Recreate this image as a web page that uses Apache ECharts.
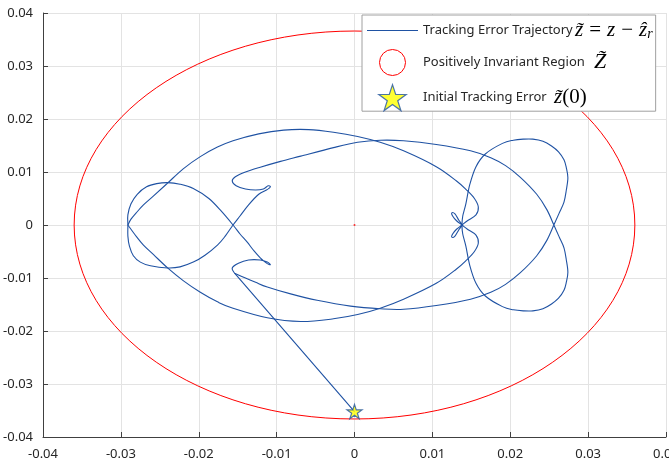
<!DOCTYPE html>
<html>
<head>
<meta charset="utf-8">
<script src="https://cdn.jsdelivr.net/npm/echarts/dist/echarts.min.js"></script>
<style>
  html, body { margin: 0; padding: 0; background: #fff; }
  #chart { width: 669px; height: 466px; }
</style>
</head>
<body>
<div id="chart"></div>
<script>
// axis range and tick step (both axes)
const axisMin = -0.04
const axisMax = 0.04
const axisStep = 0.01

// initial tracking error and the first jump of the trajectory
const initialError = [0, -0.0352]
const jumpPoint = [-0.0154, -0.0091]

// positively invariant region: ellipse centre and semi-axes
const regionCenter = [0, 0]
const regionSemiAxes = [0.0360, 0.0366]

// trajectory, main loop (right lobe, hooks and left "fish")
const trajMain = [
  [-0.0154, -0.0091], [-0.0140, -0.0100], [-0.0127, -0.0108], [-0.0112, -0.0117],
  [-0.0082, -0.0130], [-0.0048, -0.0142], [-0.0005, -0.0153], [0.0033, -0.0158],
  [0.0063, -0.0159], [0.0105, -0.0152], [0.0149, -0.0140], [0.0175, -0.0127],
  [0.0194, -0.0112], [0.0213, -0.0090], [0.0234, -0.0058], [0.0247, -0.0029],
  [0.0256, 0.0000], [0.0263, 0.0023], [0.0269, 0.0043], [0.0272, 0.0066],
  [0.0274, 0.0089], [0.0272, 0.0108], [0.0269, 0.0123], [0.0262, 0.0138],
  [0.0253, 0.0149], [0.0242, 0.0158], [0.0229, 0.0162], [0.0217, 0.0162],
  [0.0204, 0.0160], [0.0190, 0.0154], [0.0168, 0.0134], [0.0156, 0.0110],
  [0.0148, 0.0076], [0.0143, 0.0040], [0.0139, 0.0017], [0.0138, 0.0000],
  [0.0139, -0.0017], [0.0143, -0.0040], [0.0148, -0.0076], [0.0156, -0.0110],
  [0.0168, -0.0134], [0.0190, -0.0154], [0.0204, -0.0160], [0.0217, -0.0162],
  [0.0229, -0.0162], [0.0242, -0.0158], [0.0253, -0.0149], [0.0262, -0.0138],
  [0.0269, -0.0123], [0.0272, -0.0108], [0.0274, -0.0089], [0.0272, -0.0066],
  [0.0269, -0.0043], [0.0263, -0.0023], [0.0256, 0.0000], [0.0247, 0.0029],
  [0.0234, 0.0058], [0.0213, 0.0090], [0.0194, 0.0112], [0.0175, 0.0127],
  [0.0149, 0.0140], [0.0105, 0.0152], [0.0063, 0.0159], [0.0033, 0.0160],
  [0.0004, 0.0156], [-0.0027, 0.0146], [-0.0069, 0.0130], [-0.0095, 0.0120],
  [-0.0121, 0.0109], [-0.0140, 0.0100], [-0.0153, 0.0091], [-0.0157, 0.0083],
  [-0.0152, 0.0074], [-0.0140, 0.0068], [-0.0127, 0.0066], [-0.0117, 0.0068],
  [-0.0111, 0.0074], [-0.0108, 0.0072], [-0.0113, 0.0066], [-0.0123, 0.0058],
  [-0.0136, 0.0038], [-0.0147, 0.0017], [-0.0156, 0.0000], [-0.0166, -0.0021],
  [-0.0176, -0.0038], [-0.0192, -0.0057], [-0.0207, -0.0070], [-0.0224, -0.0079],
  [-0.0240, -0.0081], [-0.0262, -0.0077], [-0.0275, -0.0070], [-0.0284, -0.0058],
  [-0.0289, -0.0040], [-0.0291, -0.0021], [-0.0291, 0.0000], [-0.0291, 0.0019],
  [-0.0287, 0.0040], [-0.0279, 0.0058], [-0.0267, 0.0072], [-0.0254, 0.0078],
  [-0.0240, 0.0080], [-0.0224, 0.0077], [-0.0207, 0.0069], [-0.0187, 0.0050],
  [-0.0171, 0.0026], [-0.0156, 0.0000], [-0.0147, -0.0017], [-0.0138, -0.0032],
  [-0.0129, -0.0049], [-0.0121, -0.0062], [-0.0113, -0.0072], [-0.0108, -0.0075],
  [-0.0112, -0.0070], [-0.0121, -0.0066], [-0.0136, -0.0066], [-0.0149, -0.0072],
  [-0.0157, -0.0081], [-0.0154, -0.0091]
]

// trajectory, outer loop (big arcs and the small butterfly)
const trajOuter = [
  [-0.0291, 0.0000], [-0.0287, 0.0011], [-0.0279, 0.0025], [-0.0271, 0.0038],
  [-0.0258, 0.0055], [-0.0240, 0.0079], [-0.0220, 0.0106], [-0.0198, 0.0129],
  [-0.0176, 0.0147], [-0.0156, 0.0159], [-0.0123, 0.0172], [-0.0091, 0.0179],
  [-0.0059, 0.0180], [-0.0027, 0.0175], [0.0004, 0.0167], [0.0033, 0.0156],
  [0.0063, 0.0140], [0.0105, 0.0110], [0.0131, 0.0083], [0.0144, 0.0066],
  [0.0154, 0.0050], [0.0159, 0.0034], [0.0156, 0.0019], [0.0145, 0.0008],
  [0.0138, 0.0000], [0.0131, -0.0008], [0.0126, -0.0017], [0.0125, -0.0023],
  [0.0129, -0.0021], [0.0134, -0.0009], [0.0138, 0.0000], [0.0134, 0.0009],
  [0.0129, 0.0021], [0.0125, 0.0023], [0.0126, 0.0017], [0.0131, 0.0008],
  [0.0138, 0.0000], [0.0145, -0.0008], [0.0156, -0.0019], [0.0159, -0.0034],
  [0.0154, -0.0050], [0.0144, -0.0066], [0.0131, -0.0083], [0.0105, -0.0110],
  [0.0063, -0.0140], [0.0033, -0.0157], [0.0004, -0.0169], [-0.0027, -0.0177],
  [-0.0069, -0.0182], [-0.0112, -0.0175], [-0.0156, -0.0157], [-0.0176, -0.0145],
  [-0.0198, -0.0127], [-0.0220, -0.0105], [-0.0240, -0.0081], [-0.0258, -0.0056],
  [-0.0271, -0.0038], [-0.0280, -0.0022], [-0.0291, 0.0000]
]

const legendNames = ['Tracking Error Trajectory', 'Positively Invariant Region', 'Initial Tracking Error']

const blue = '#1f52a3'
const red = '#ff0000'
const yellow = '#ffff00'
const axisColor = '#404040'
const starPath = 'path://M50,0L61.2,34.5L97.6,34.5L68.2,55.9L79.4,90.5L50,69.1L20.6,90.5L31.8,55.9L2.4,34.5L38.8,34.5Z'
const linePath = 'path://M0,0L51,0L51,1.2L0,1.2Z'

// rich text for the legend (LaTeX-ish parts in serif italic)
const legendRich = {}
legendRich[legendNames[0]] = '{t1|' + legendNames[0] + '}{mi|z\u0303}{mo|=}{mi|z}{mo|\u2212}{mi|z\u0302}{sub|r}'
legendRich[legendNames[1]] = '{t2|' + legendNames[1] + '}{mz|Z\u0303}'
legendRich[legendNames[2]] = '{t3|' + legendNames[2] + '}{mi|z\u0303}{mp|(0)}'

let chart = echarts.init(document.getElementById('chart'))

// trajectory piece: the points go through the axes with api.coord,
// then a Catmull-Rom curve is drawn through them (line smooth stays off here)
function trajCurve(points) {
  return {
    name: legendNames[0],
    type: 'custom',
    silent: true,
    z: 3,
    itemStyle: { color: blue },
    data: points,
    encode: { x: 0, y: 1 },
    renderItem: function (params, api) {
      if (params.dataIndex !== 0) return null
      let p = points.map(function (d) { return api.coord(d) })
      let n = p.length
      let d = 'M' + p[0][0].toFixed(2) + ' ' + p[0][1].toFixed(2)
      for (let i = 0; i < n - 1; i++) {
        let p0 = p[Math.max(i - 1, 0)]
        let p1 = p[i]
        let p2 = p[i + 1]
        let p3 = p[Math.min(i + 2, n - 1)]
        let c1x = p1[0] + (p2[0] - p0[0]) / 6
        let c1y = p1[1] + (p2[1] - p0[1]) / 6
        let c2x = p2[0] - (p3[0] - p1[0]) / 6
        let c2y = p2[1] - (p3[1] - p1[1]) / 6
        d += ' C' + c1x.toFixed(2) + ' ' + c1y.toFixed(2) + ' ' +
          c2x.toFixed(2) + ' ' + c2y.toFixed(2) + ' ' +
          p2[0].toFixed(2) + ' ' + p2[1].toFixed(2)
      }
      return {
        type: 'path',
        shape: { pathData: d },
        style: { fill: 'none', stroke: blue, lineWidth: 1.1 }
      }
    }
  }
}

const textFont = { fontFamily: 'Noto Sans', fontSize: 13, color: '#262626' }
const mathFont = { fontFamily: 'Liberation Serif', fontSize: 21, color: '#000' }

let option = {
  animation: false,
  backgroundColor: '#fff',
  grid: {
    left: 43,
    right: 3,
    top: 13,
    bottom: 29,
    containLabel: false,
    outerBoundsMode: 'none'
  },
  legend: {
    orient: 'vertical',
    left: 362,
    top: 15,
    padding: [5, 3, 0, 5],
    itemGap: 8,
    itemWidth: 51,
    itemHeight: 26,
    itemTextGap: 2,
    symbolKeepAspect: true,
    backgroundColor: '#fff',
    borderColor: '#a0a0a0',
    borderWidth: 1,
    borderRadius: 0,
    selectedMode: false,
    data: [
      { name: legendNames[0], icon: linePath, itemStyle: { color: blue, borderWidth: 0 } },
      { name: legendNames[1], icon: 'circle', itemStyle: { color: '#fff', borderColor: red, borderWidth: 1 } },
      { name: legendNames[2], icon: starPath, itemStyle: { color: yellow, borderColor: blue, borderWidth: 1.2 } }
    ],
    formatter: function (name) {
      return legendRich[name]
    },
    textStyle: {
      rich: {
        t1: Object.assign({ width: 152 }, textFont),
        t2: Object.assign({ width: 171 }, textFont),
        t3: Object.assign({ width: 131 }, textFont),
        mi: Object.assign({ fontStyle: 'italic' }, mathFont),
        mo: Object.assign({ padding: [0, 6, 0, 6] }, mathFont),
        mp: Object.assign({}, mathFont),
        sub: { fontFamily: 'Liberation Serif', fontStyle: 'italic', fontSize: 14, color: '#000', verticalAlign: 'bottom' },
        mz: { fontFamily: 'Liberation Serif', fontStyle: 'italic', fontSize: 22, color: '#000' }
      }
    }
  },
  xAxis: {
    type: 'value',
    min: axisMin,
    max: axisMax,
    interval: axisStep,
    axisLine: { show: true, onZero: false, lineStyle: { color: axisColor, width: 1 } },
    axisTick: { show: true, inside: true, length: 5, lineStyle: { color: axisColor } },
    axisLabel: { color: '#262626', fontFamily: 'Noto Sans', fontSize: 13, margin: 11 },
    splitLine: { show: true, lineStyle: { color: '#e3e3e3', width: 1 } }
  },
  yAxis: {
    type: 'value',
    min: axisMin,
    max: axisMax,
    interval: axisStep,
    axisLine: { show: true, onZero: false, lineStyle: { color: axisColor, width: 1 } },
    axisTick: { show: true, inside: true, length: 5, lineStyle: { color: axisColor } },
    axisLabel: { color: '#262626', fontFamily: 'Noto Sans', fontSize: 13, margin: 10 },
    splitLine: { show: true, lineStyle: { color: '#e3e3e3', width: 1 } }
  },
  series: [
    {
      name: legendNames[1],
      type: 'custom',
      silent: true,
      z: 2,
      itemStyle: { color: red },
      data: [[regionCenter[0], regionCenter[1], regionSemiAxes[0], regionSemiAxes[1]]],
      encode: { x: 0, y: 1 },
      renderItem: function (params, api) {
        let c = api.coord([api.value(0), api.value(1)])
        let s = api.size([api.value(2), api.value(3)])
        return {
          type: 'ellipse',
          shape: { cx: c[0], cy: c[1], rx: s[0], ry: s[1] },
          style: { fill: 'none', stroke: red, lineWidth: 1 }
        }
      }
    },
    {
      name: 'region centre',
      type: 'scatter',
      silent: true,
      symbol: 'circle',
      symbolSize: 2,
      itemStyle: { color: red },
      data: [regionCenter],
      z: 2
    },
    trajCurve([initialError, jumpPoint]),
    trajCurve(trajMain),
    trajCurve(trajOuter),
    {
      name: legendNames[2],
      type: 'scatter',
      silent: true,
      symbol: starPath,
      symbolKeepAspect: true,
      symbolSize: 15,
      itemStyle: { color: yellow, borderColor: blue, borderWidth: 1.2 },
      data: [initialError],
      z: 5
    }
  ]
}

chart.setOption(option)
</script>
</body>
</html>
